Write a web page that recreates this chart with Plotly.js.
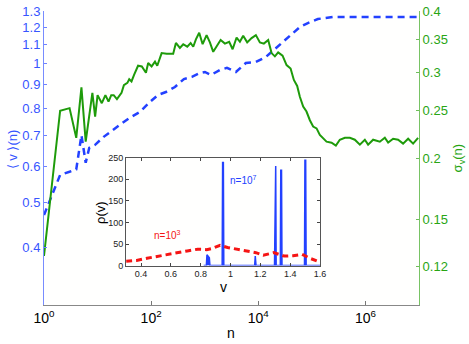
<!DOCTYPE html>
<html>
<head>
<meta charset="utf-8">
<script src="https://cdn.plot.ly/plotly-3.0.1.min.js"></script>
<style>
  body { margin: 0; background: #fff; }
  #chart { width: 469px; height: 344px; }
</style>
</head>
<body>
<div id="chart"></div>
<script>
// main plot: mean velocity <v>(n), left axis
var nMean = [1, 2, 3, 4, 5, 6, 7, 9, 13, 17, 26, 40, 62, 95, 134, 189, 278, 409, 577, 813,
    1009, 1306, 1923, 2596, 3819, 5870, 9016, 13870, 21300, 28770, 40550, 59700, 84140,
    129400, 246600, 786500, 2851000, 10000000];
var vMean = [0.47, 0.574, 0.583, 0.59, 0.70, 0.61, 0.657, 0.667, 0.694, 0.711, 0.737, 0.763,
    0.786, 0.826, 0.855, 0.868, 0.89, 0.926, 0.936, 0.954, 0.959, 0.945, 0.969, 0.979, 0.959,
    1.003, 1.008, 1.034, 1.081, 1.114, 1.153, 1.2, 1.224, 1.249, 1.262, 1.262, 1.262, 1.262];

// main plot: sigma_v(n), right axis
var nSigma = [1, 2, 3, 4, 5, 6, 8, 9, 10, 12, 14, 16, 18, 20, 23, 28, 31, 36, 39, 43, 48, 57,
    67, 80, 88, 102, 118, 130, 157, 195, 258, 290, 344, 397, 472, 546, 611, 685, 789, 914,
    1084, 1250, 1442, 1667, 1982, 2382, 2864, 3319, 3936, 4539, 5224, 6209, 7499, 9016,
    10715, 12706, 15311, 17701, 20417, 23496, 28379, 33729, 40087, 46132, 53211, 59704,
    68865, 79433, 91833, 105682, 122462, 140929, 162555, 187932, 233346, 280543, 332659,
    413047, 511709, 633870, 787046, 974989, 1122018, 1393157, 1857804, 2301442, 2654606,
    3288516, 4073803, 5046613, 6266139, 7762471, 9616123];
var sigma = [0.126, 0.250, 0.253, 0.220, 0.279, 0.216, 0.272, 0.243, 0.269, 0.259, 0.269,
    0.261, 0.269, 0.269, 0.264, 0.272, 0.282, 0.285, 0.290, 0.287, 0.296, 0.309, 0.308,
    0.299, 0.313, 0.308, 0.315, 0.309, 0.328, 0.327, 0.327, 0.344, 0.336, 0.342, 0.338,
    0.344, 0.338, 0.350, 0.361, 0.342, 0.357, 0.345, 0.330, 0.338, 0.349, 0.343, 0.346,
    0.334, 0.353, 0.346, 0.356, 0.345, 0.352, 0.357, 0.345, 0.343, 0.349, 0.328, 0.323,
    0.329, 0.324, 0.310, 0.305, 0.289, 0.281, 0.267, 0.255, 0.249, 0.239, 0.232, 0.230,
    0.223, 0.220, 0.216, 0.215, 0.212, 0.218, 0.220, 0.220, 0.218, 0.213, 0.218, 0.213,
    0.218, 0.216, 0.220, 0.215, 0.219, 0.218, 0.214, 0.219, 0.214, 0.220];

// inset: rho(v) at n=10^3
var vRho3 = [0.3, 0.37, 0.44, 0.5, 0.57, 0.64, 0.71, 0.78, 0.84, 0.88, 0.93, 0.98, 1.04,
    1.11, 1.17, 1.22, 1.29, 1.36, 1.42, 1.48, 1.54, 1.6];
var rho3 = [10, 12, 17, 21, 26, 30, 34, 38, 37, 40, 47, 42, 38, 34, 30, 24, 30, 22, 23, 26, 16, 8];

// inset: rho(v) at n=10^7 (narrow peaks)
var vRho7 = [0.82, 0.838, 0.842, 0.848, 0.852, 0.858, 0.862, 0.944, 0.947, 0.952, 0.955,
    1.162, 1.166, 1.171, 1.295, 1.298, 1.303, 1.306, 1.334, 1.337, 1.342, 1.345,
    1.496, 1.499, 1.504, 1.507, 1.6];
var rho7 = [0, 0, 25, 22, 20, 18, 0, 0, 239, 239, 0, 0, 22, 0, 0, 231, 231, 0, 0, 221, 221, 0,
    0, 244, 244, 0, 0];

var vTicks = [0.4, 0.5, 0.6, 0.7, 0.8, 0.9, 1, 1.1, 1.2, 1.3];
var sigmaTicks = [0.12, 0.15, 0.2, 0.25, 0.3, 0.35, 0.4];
var nTicks = [1, 1e2, 1e4, 1e6];
var nTickText = ['10<sup>0</sup>', '10<sup>2</sup>', '10<sup>4</sup>', '10<sup>6</sup>'];
var insetXTicks = [0.4, 0.6, 0.8, 1, 1.2, 1.4, 1.6];
var insetYTicks = [0, 50, 100, 150, 200, 250];

var FONT = 'Liberation Sans, Arial, sans-serif';
var BLUE = 'rgb(35,65,255)';
var GREEN = 'rgb(30,155,10)';
var RED = 'rgb(245,20,20)';

var traces = [
    {
        x: nMean, y: vMean, xaxis: 'x', yaxis: 'y',
        mode: 'lines', line: {color: BLUE, width: 2.5, dash: '7px,5px'},
        hoverinfo: 'skip'
    },
    {
        x: nSigma, y: sigma, xaxis: 'x', yaxis: 'y2',
        mode: 'lines', line: {color: GREEN, width: 2},
        hoverinfo: 'skip'
    },
    {
        x: vRho7, y: rho7, xaxis: 'x2', yaxis: 'y3',
        mode: 'lines', fill: 'tozeroy', fillcolor: BLUE,
        line: {color: BLUE, width: 1.5},
        hoverinfo: 'skip'
    },
    {
        x: vRho3, y: rho3, xaxis: 'x2', yaxis: 'y3',
        mode: 'lines', line: {color: RED, width: 3, dash: '6px,4px'},
        hoverinfo: 'skip'
    }
];

function label(text, xref, yref, x, y, size, color, angle) {
    return {
        text: text, xref: xref, yref: yref, x: x, y: y,
        xanchor: 'center', yanchor: 'middle', textangle: angle || 0,
        showarrow: false, font: {size: size, color: color}
    };
}

var layout = {
    width: 469,
    height: 344,
    margin: {l: 44, r: 50, t: 11, b: 39},
    paper_bgcolor: '#ffffff',
    plot_bgcolor: '#fffffe',
    showlegend: false,
    font: {family: FONT, size: 13, color: '#000'},
    xaxis: {
        type: 'log', range: [0, 7], domain: [0, 1], anchor: 'y',
        tickmode: 'array', tickvals: nTicks, ticktext: nTickText,
        ticks: 'inside', ticklen: 4, tickcolor: '#777',
        showline: true, linecolor: '#888', linewidth: 1,
        showgrid: false, zeroline: false,
        tickfont: {size: 14, color: '#000'}
    },
    yaxis: {
        type: 'log', range: [Math.log10(0.3), Math.log10(1.3)], domain: [0, 1],
        anchor: 'x', side: 'left',
        tickmode: 'array', tickvals: vTicks, ticktext: vTicks.map(String),
        ticks: 'inside', ticklen: 3, tickcolor: 'rgb(110,130,255)',
        showline: true, linecolor: 'rgb(120,140,255)', linewidth: 1,
        showgrid: false, zeroline: false,
        tickfont: {size: 13, color: 'rgb(55,85,255)'}
    },
    yaxis2: {
        type: 'log', range: [-1, Math.log10(0.4)], overlaying: 'y',
        anchor: 'x', side: 'right',
        tickmode: 'array', tickvals: sigmaTicks, ticktext: sigmaTicks.map(String),
        ticks: 'inside', ticklen: 3, tickcolor: 'rgb(110,190,90)',
        showline: true, linecolor: 'rgb(120,195,100)', linewidth: 1,
        showgrid: false, zeroline: false,
        tickfont: {size: 13, color: 'rgb(40,165,20)'}
    },
    xaxis2: {
        range: [0.3, 1.6], domain: [0.219, 0.736], anchor: 'y3',
        tickmode: 'array', tickvals: insetXTicks, ticktext: insetXTicks.map(String),
        ticks: 'inside', ticklen: 3, tickcolor: '#444',
        showline: true, mirror: 'ticks', linecolor: '#555', linewidth: 1,
        showgrid: false, zeroline: false,
        tickfont: {size: 9, color: '#222'}
    },
    yaxis3: {
        range: [0, 250], domain: [0.134, 0.501], anchor: 'x2',
        tickmode: 'array', tickvals: insetYTicks, ticktext: insetYTicks.map(String),
        ticks: 'inside', ticklen: 3, tickcolor: '#444',
        showline: true, mirror: 'ticks', linecolor: '#555', linewidth: 1,
        showgrid: false, zeroline: false,
        tickfont: {size: 9, color: '#222'}
    },
    annotations: [
        label('n', 'paper', 'paper', 0.499, -0.095, 14, '#000'),
        label('\u27E8 v \u27E9(n)', 'paper', 'paper', -0.085, 0.53, 13, 'rgb(55,85,255)', -90),
        label('\u03C3<sub>v</sub>(n)', 'paper', 'paper', 1.105, 0.5, 13, 'rgb(40,165,20)', -90),
        label('\u03C1(v)', 'paper', 'paper', 0.149, 0.316, 13, '#000', -90),
        label('v', 'paper', 'paper', 0.478, 0.062, 14, '#000'),
        label('n=10<sup>7</sup>', 'x2', 'y3', 1.09, 198, 10, BLUE),
        label('n=10<sup>3</sup>', 'x2', 'y3', 0.58, 71, 10, RED)
    ]
};

Plotly.newPlot('chart', traces, layout, {staticPlot: true, displayModeBar: false});
</script>
</body>
</html>
